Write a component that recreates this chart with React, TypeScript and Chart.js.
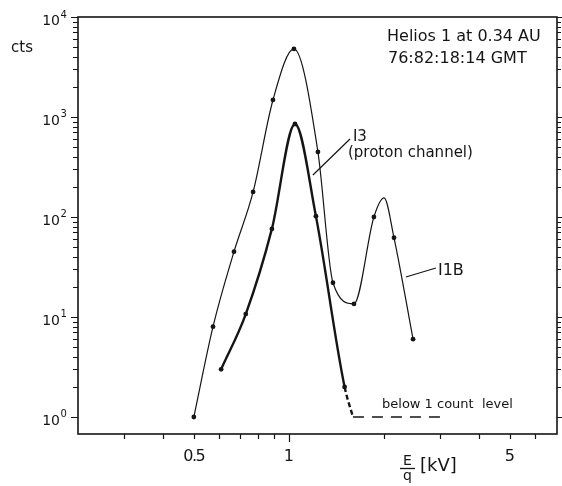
import { useEffect, useRef } from 'react';
import { Chart, registerables } from 'chart.js';

Chart.register(...registerables);

// Energy per charge E/q [kV] and counts for the two analyser channels.
const I1B_ENERGY = [0.5, 0.575, 0.67, 0.77, 0.89, 1.037, 1.235, 1.378, 1.606, 1.857, 2.0, 2.15, 2.47];
const I1B_COUNTS = [1.0, 8.0, 45, 178, 1480, 4790, 447, 22, 13.5, 100, 155, 62, 6.0];
// The crest of the second I1B bump is a fitted point, not a measurement.
const I1B_MEASURED = [true, true, true, true, true, true, true, true, true, true, false, true, true];

const I3_ENERGY = [0.61, 0.73, 0.883, 1.045, 1.217, 1.5, 1.594];
const I3_COUNTS = [3.0, 10.7, 76, 851, 102, 2.0, 1.0];

// Dashed continuation of I3 along the one-count floor.
const FLOOR_ENERGY = [1.594, 3.1];
const FLOOR_COUNTS = [1, 1];

// Axis ranges and tick labels.
const X_MIN = 0.215;
const X_MAX = 7.05;
const Y_MIN = 0.676;
const Y_MAX = 1e4;
const X_LABEL_VALUES = [0.5, 1, 5];
const X_LABEL_TEXTS = ['0.5', '1', '5'];
const Y_LABEL_EXPONENTS = [0, 1, 2, 3, 4];

const INK = '#151515';
const FONT = '"DejaVu Sans", sans-serif';

function logTicks(min: number, max: number) {
  const out: { v: number; major: boolean }[] = [];
  for (let d = Math.floor(Math.log10(min)); d <= Math.ceil(Math.log10(max)); d++) {
    for (let m = 1; m < 10; m++) {
      const v = m * Math.pow(10, d);
      if (v >= min * 0.999 && v <= max) out.push({ v, major: m === 1 });
    }
  }
  return out;
}

const framePlugin = {
  id: 'spectrumFrame',
  afterDraw(chart: any) {
    const { ctx, chartArea: a, scales } = chart;
    const x = scales.x;
    const y = scales.y;
    ctx.save();
    ctx.strokeStyle = INK;
    ctx.fillStyle = INK;

    // frame
    ctx.lineWidth = 1.6;
    ctx.strokeRect(a.left, a.top, a.right - a.left, a.bottom - a.top);

    // tick marks
    ctx.lineWidth = 1.2;
    ctx.beginPath();
    for (const t of logTicks(1, Y_MAX)) {
      const py = Math.round(y.getPixelForValue(t.v)) + 0.5;
      ctx.moveTo(a.left - (t.major ? 7 : 5), py);
      ctx.lineTo(a.left, py);
      ctx.moveTo(a.right, py);
      ctx.lineTo(a.right + (t.major ? 6 : 4), py);
    }
    for (const t of logTicks(0.3, X_MAX * 0.99)) {
      const px = Math.round(x.getPixelForValue(t.v)) + 0.5;
      ctx.moveTo(px, a.bottom);
      ctx.lineTo(px, a.bottom + (t.v === 1 ? 8 : 5));
    }
    ctx.stroke();

    // y tick labels 10^n
    ctx.textBaseline = 'alphabetic';
    for (const e of Y_LABEL_EXPONENTS) {
      const py = y.getPixelForValue(Math.pow(10, e));
      ctx.font = `14px ${FONT}`;
      ctx.textAlign = 'right';
      ctx.fillText('10', 60, py + 8);
      ctx.font = `10px ${FONT}`;
      ctx.textAlign = 'left';
      ctx.fillText(String(e), 60.5, py + 0.5);
    }

    // x tick labels
    ctx.font = `16px ${FONT}`;
    ctx.textAlign = 'center';
    X_LABEL_VALUES.forEach((v, i) => {
      const px = x.getPixelForValue(v);
      if (X_LABEL_TEXTS[i] === '0.5') {
        (ctx as any).letterSpacing = '-1.5px';
      }
      ctx.fillText(X_LABEL_TEXTS[i], px, 461);
      (ctx as any).letterSpacing = '0px';
    });

    // x axis title: E/q [kV]
    ctx.font = `14px ${FONT}`;
    ctx.textAlign = 'center';
    ctx.fillText('E', 407.5, 465);
    ctx.fillText('q', 407.5, 480);
    ctx.lineWidth = 1.3;
    ctx.beginPath();
    ctx.moveTo(400, 468.5);
    ctx.lineTo(415, 468.5);
    ctx.stroke();
    ctx.font = `18px ${FONT}`;
    ctx.textAlign = 'left';
    ctx.fillText('[kV]', 420, 471);

    // y axis title
    ctx.font = `15px ${FONT}`;
    ctx.fillText('cts', 11, 52);

    // header
    ctx.font = `16px ${FONT}`;
    ctx.fillText('Helios 1 at 0.34 AU', 387, 41);
    ctx.fillText('76:82:18:14 GMT', 388, 63);

    // channel labels with leader lines
    const P = (ex: number, cy: number) => [x.getPixelForValue(ex), y.getPixelForValue(cy)];
    ctx.lineWidth = 1.2;
    ctx.beginPath();
    let p = P(1.56, 603);
    ctx.moveTo(p[0], p[1]);
    p = P(1.191, 263);
    ctx.lineTo(p[0], p[1]);
    p = P(2.345, 25.1);
    ctx.moveTo(p[0], p[1]);
    p = P(2.918, 30.9);
    ctx.lineTo(p[0], p[1]);
    ctx.stroke();

    ctx.font = `15px ${FONT}`;
    p = P(1.594, 575);
    ctx.fillText('I3', p[0], p[1]);
    p = P(1.537, 398);
    ctx.fillText('(proton channel)', p[0], p[1]);
    ctx.font = `16px ${FONT}`;
    p = P(2.961, 26.3);
    ctx.fillText('I1B', p[0], p[1]);
    ctx.font = `13px ${FONT}`;
    p = P(1.97, 1.23);
    ctx.fillText('below 1 count  level', p[0], p[1]);

    ctx.restore();
  },
};

export default function App() {
  const canvasRef = useRef<HTMLCanvasElement | null>(null);

  useEffect(() => {
    const canvas = canvasRef.current;
    if (!canvas) return;
    const chart = new Chart(canvas, {
      type: 'line',
      data: {
        datasets: [
          {
            label: 'I1B',
            data: I1B_ENERGY.map((e, i) => ({ x: e, y: I1B_COUNTS[i] })),
            borderColor: INK,
            backgroundColor: INK,
            borderWidth: 1.2,
            cubicInterpolationMode: 'monotone',
            pointRadius: (c: any) => (I1B_MEASURED[c.dataIndex] ? 2.4 : 0),
            pointBorderWidth: 0,
            fill: false,
          },
          {
            label: 'I3',
            data: I3_ENERGY.map((e, i) => ({ x: e, y: I3_COUNTS[i] })),
            borderColor: INK,
            backgroundColor: INK,
            borderWidth: 2.4,
            cubicInterpolationMode: 'monotone',
            pointRadius: (c: any) => (c.dataIndex === I3_ENERGY.length - 1 ? 0 : 2.4),
            pointBorderWidth: 0,
            segment: {
              borderDash: (c: any) => (c.p1DataIndex === I3_ENERGY.length - 1 ? [5, 3] : undefined),
            },
            fill: false,
          },
          {
            label: 'floor',
            data: FLOOR_ENERGY.map((e, i) => ({ x: e, y: FLOOR_COUNTS[i] })),
            borderColor: INK,
            borderWidth: 1.3,
            borderDash: [11, 8],
            pointRadius: 0,
            fill: false,
          },
        ],
      },
      options: {
        responsive: false,
        animation: false,
        layout: { padding: { left: 78, top: 17, right: 5, bottom: 52 } },
        plugins: { legend: { display: false }, tooltip: { enabled: false } },
        scales: {
          x: { type: 'logarithmic', min: X_MIN, max: X_MAX, display: false },
          y: { type: 'logarithmic', min: Y_MIN, max: Y_MAX, display: false },
        },
      },
      plugins: [framePlugin],
    } as any);
    return () => chart.destroy();
  }, []);

  return (
    <canvas
      ref={canvasRef}
      width={562}
      height={486}
      style={{ position: 'absolute', left: 0, top: 0, display: 'block', background: '#fff' }}
    />
  );
}
